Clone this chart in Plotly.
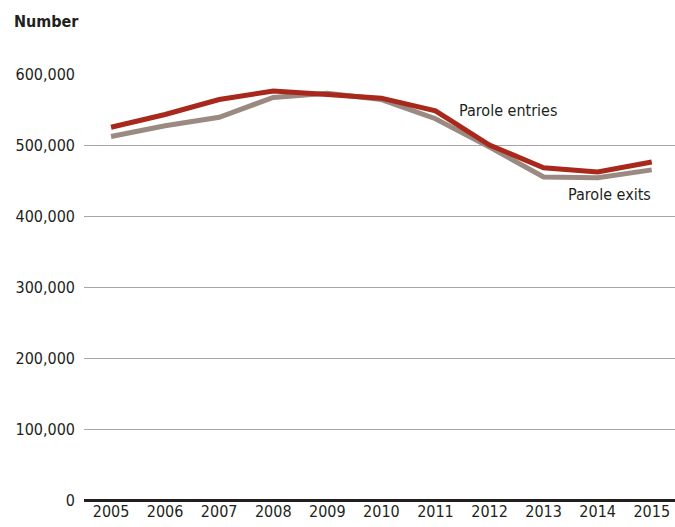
import plotly.graph_objects as go

years = [2005, 2006, 2007, 2008, 2009, 2010, 2011, 2012, 2013, 2014, 2015]
entries = [525000, 543000, 564000, 576000, 571000, 566000, 548000, 500000, 468000, 462000, 476000]
exits = [512000, 527000, 539000, 567000, 573000, 564000, 537000, 497000, 455000, 454000, 465000]
y_ticks = [0, 100000, 200000, 300000, 400000, 500000, 600000]
y_labels = ["0", "100,000", "200,000", "300,000", "400,000", "500,000", "600,000"]

FONT = "DejaVu Sans Condensed, Liberation Sans Narrow, Roboto, sans-serif"

fig = go.Figure()
fig.add_trace(go.Scatter(x=years, y=exits, mode="lines", name="Parole exits",
                         line=dict(color="#9a8a82", width=5)))
fig.add_trace(go.Scatter(x=years, y=entries, mode="lines", name="Parole entries",
                         line=dict(color="#a8281c", width=5)))

fig.add_annotation(x=2012.35, y=548000, text="Parole entries", showarrow=False,
                   xanchor="center", yanchor="middle",
                   font=dict(family=FONT, size=16, color="#231f20"))
fig.add_annotation(x=2014.22, y=430000, text="Parole exits", showarrow=False,
                   xanchor="center", yanchor="middle",
                   font=dict(family=FONT, size=16, color="#231f20"))
fig.add_annotation(xref="paper", yref="paper", x=-0.122, y=1.123, text="<b>Number</b>",
                   showarrow=False, xanchor="left", yanchor="middle",
                   font=dict(family=FONT, size=16, color="#231f20"))

fig.update_layout(
    width=675, height=527,
    margin=dict(l=84, r=0, t=74, b=27, autoexpand=False),
    plot_bgcolor="white", paper_bgcolor="white",
    showlegend=False,
    font=dict(family=FONT, size=16, color="#231f20"),
    xaxis=dict(range=[2004.5, 2015.43], tickmode="array", tickvals=years,
               ticktext=[str(y) for y in years], showgrid=False, zeroline=False,
               showline=False, ticks="", tickfont=dict(size=16)),
    yaxis=dict(range=[0, 600000], tickmode="array", tickvals=y_ticks, ticktext=y_labels,
               showgrid=True, gridcolor="#a6a6a6", gridwidth=1,
               zeroline=True, zerolinecolor="#231f20", zerolinewidth=3,
               showline=False, ticks="", ticklen=0, tickfont=dict(size=16)),
)
fig.update_yaxes(ticklabelstandoff=8)
fig.update_xaxes(ticklabelstandoff=0)

fig.write_html("out.html", config={"displayModeBar": False},
               post_script="document.body.style.margin='0';document.body.style.overflow='hidden';")
